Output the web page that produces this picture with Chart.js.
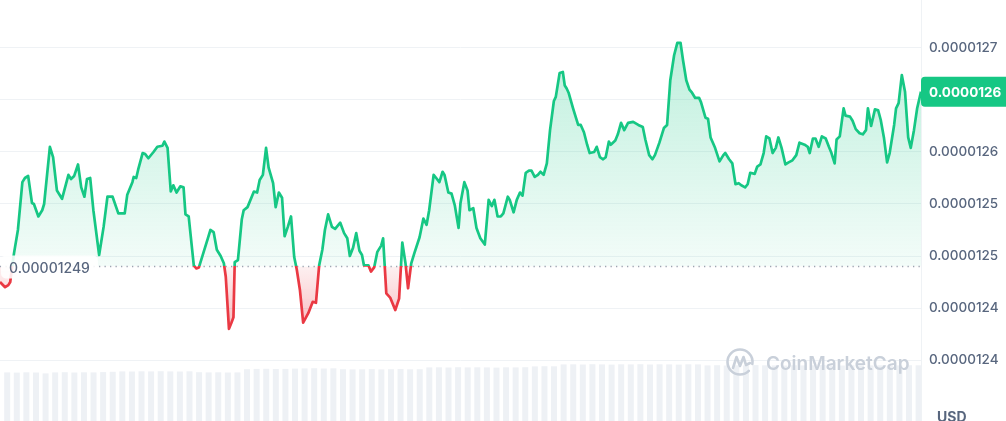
<!DOCTYPE html>
<html><head><meta charset="utf-8">
<script src="https://cdn.jsdelivr.net/npm/chart.js@4.4.1/dist/chart.umd.min.js"></script>
<style>html,body{margin:0;padding:0;background:#fff;overflow:hidden}#wrap{width:1006px;height:421px;position:relative}</style>
</head><body><div id="wrap"><canvas id="c" width="1006" height="421"></canvas></div>
<script>
// time of each price sample, minutes from start of the 24h window
const minutes = [0,8,13,16,19,22,28,35,39,44,50,53,60,66,69,78,83,89,97,107,111,116,122,127,132,136,141,146,155,162,168,176,185,195,199,207,209,213,216,223,227,232,240,246,254,257,262,267,271,276,282,287,290,295,303,307,311,318,325,329,334,339,345,350,353,358,362,365,367,372,378,381,387,397,402,406,411,416,420,427,431,436,441,445,450,455,460,464,469,474,482,489,494,499,504,508,513,519,524,532,538,543,547,552,557,562,566,569,576,580,585,590,596,599,604,610,618,624,629,634,638,643,648,656,662,667,671,678,682,687,692,695,701,706,711,717,720,726,731,734,740,745,751,758,764,769,773,778,783,787,794,797,803,808,813,817,822,827,831,836,841,845,850,855,860,866,869,875,880,883,886,889,896,899,904,908,913,918,922,929,933,938,943,947,952,955,962,966,971,976,982,990,998,1005,1009,1015,1020,1024,1031,1038,1043,1048,1054,1059,1064,1068,1073,1078,1082,1087,1093,1096,1103,1107,1111,1118,1125,1131,1134,1140,1145,1150,1155,1159,1165,1169,1173,1180,1184,1189,1194,1198,1203,1208,1213,1217,1222,1228,1233,1239,1245,1250,1258,1263,1266,1271,1275,1280,1285,1291,1296,1300,1305,1308,1313,1319,1322,1329,1333,1338,1344,1349,1354,1357,1362,1368,1373,1377,1382,1387,1391,1398,1401,1405,1410,1415,1420,1424,1429,1434,1440];
// price in units of 1e-9 USD
const pricesNano = [12475,12470,12472,12475,12490,12503,12525,12571,12575,12577,12551,12550,12538,12544,12550,12605,12595,12563,12555,12578,12574,12577,12588,12566,12557,12574,12575,12544,12501,12528,12557,12557,12541,12541,12559,12571,12576,12575,12583,12599,12598,12594,12600,12605,12606,12610,12604,12562,12568,12561,12567,12566,12540,12538,12491,12488,12489,12503,12517,12525,12523,12506,12500,12493,12480,12430,12436,12441,12494,12496,12535,12544,12547,12562,12561,12573,12578,12604,12585,12570,12547,12561,12556,12519,12528,12538,12499,12487,12467,12436,12445,12456,12455,12491,12506,12525,12540,12528,12526,12532,12522,12517,12500,12508,12522,12505,12501,12491,12491,12485,12489,12504,12510,12517,12464,12460,12448,12459,12513,12493,12469,12493,12503,12518,12536,12530,12544,12578,12575,12571,12581,12578,12561,12560,12549,12527,12551,12571,12563,12544,12546,12527,12517,12511,12554,12548,12554,12538,12538,12541,12557,12554,12542,12554,12561,12558,12580,12582,12582,12576,12578,12581,12578,12589,12621,12649,12653,12676,12677,12664,12661,12657,12642,12636,12626,12626,12619,12607,12599,12600,12605,12595,12593,12595,12610,12607,12611,12617,12628,12621,12628,12629,12626,12624,12612,12597,12593,12597,12609,12623,12626,12669,12693,12705,12705,12688,12669,12660,12657,12652,12652,12648,12633,12632,12614,12604,12591,12597,12599,12593,12589,12569,12570,12568,12566,12569,12580,12579,12586,12588,12599,12615,12613,12599,12604,12614,12604,12588,12590,12592,12597,12609,12607,12605,12599,12613,12613,12605,12615,12613,12605,12599,12589,12612,12615,12642,12635,12634,12630,12622,12618,12617,12621,12642,12625,12641,12640,12631,12614,12590,12599,12626,12642,12647,12674,12658,12614,12604,12621,12642,12658];
const baselineNano = 12490;
const tickValuesNano = [12400,12450,12500,12550,12600,12650,12700];
// volume per 15-minute bucket (thousand USD)
const volumeBars = [480,478,481,479,470,480,482,479,481,480,483,486,490,489,491,490,492,490,489,491,482,480,481,479,480,512,515,516,514,515,518,520,522,519,521,512,510,511,513,510,512,514,511,512,530,531,529,532,530,531,530,528,531,530,532,540,542,541,560,561,559,562,560,558,561,560,562,559,561,560,558,561,560,550,552,549,551,550,553,551,550,549,552,550,551,553,550,549,551,552,550,551,549,550,552,551];
const currencyLabel = 'USD';
const brandLabel = 'CoinMarketCap';

const GREEN = '#16c784', RED = '#ea3943', TXT = '#58667e', FONT = 'Inter, "Noto Sans", sans-serif';
const fmtTick = v => '0.0000' + Math.floor(v / 100);
const fmtBase = v => (v / 1e9).toFixed(8);
const points = minutes.map((t, i) => ({x: t, y: pricesNano[i]}));
const volLabels = volumeBars.map((_, i) => String(i));

const styler = {
  id: 'styler',
  afterLayout(chart) {
    const {ctx, chartArea: a, scales: {y}} = chart;
    const yb = y.getPixelForValue(baselineNano);
    const f = Math.min(1, Math.max(0, (yb - a.top) / (a.bottom - a.top)));
    const bc = ctx.createLinearGradient(0, a.top, 0, a.bottom);
    bc.addColorStop(0, GREEN); bc.addColorStop(f, GREEN); bc.addColorStop(f, RED); bc.addColorStop(1, RED);
    const ga = ctx.createLinearGradient(0, y.getPixelForValue(Math.max(...pricesNano)), 0, yb);
    ga.addColorStop(0, 'rgba(22,199,132,0.28)'); ga.addColorStop(1, 'rgba(22,199,132,0.05)');
    const gb = ctx.createLinearGradient(0, yb, 0, y.getPixelForValue(Math.min(...pricesNano)));
    gb.addColorStop(0, 'rgba(234,57,67,0.07)'); gb.addColorStop(1, 'rgba(234,57,67,0.34)');
    const ds = chart.data.datasets[0];
    ds.borderColor = bc;
    ds.fill = {target: {value: baselineNano}, above: ga, below: gb};
  },
  beforeDatasetsDraw(chart) {
    const {ctx, chartArea: a, scales: {y}} = chart;
    const yb = Math.round(y.getPixelForValue(baselineNano)) + 0.5;
    ctx.save();
    ctx.strokeStyle = '#9ea6b4'; ctx.lineWidth = 1.3; ctx.setLineDash([1.3, 4.2]);
    ctx.beginPath(); ctx.moveTo(a.left, yb); ctx.lineTo(a.right, yb); ctx.stroke();
    ctx.restore();
  },
  afterDatasetsDraw(chart) {
    const {ctx, chartArea: a, scales: {y}} = chart;
    const yb = y.getPixelForValue(baselineNano);
    ctx.save();
    // baseline label
    ctx.font = '500 14px ' + FONT;
    const txt = fmtBase(baselineNano);
    const w = ctx.measureText(txt).width;
    ctx.fillStyle = 'rgba(255,255,255,0.88)';
    ctx.beginPath(); ctx.roundRect(a.left + 1, yb - 11, w + 16, 23, 5); ctx.fill();
    ctx.fillStyle = TXT; ctx.textBaseline = 'middle'; ctx.textAlign = 'left';
    ctx.fillText(txt, a.left + 9, yb + 2);
    // watermark
    const cx = 740, cy = 362, r = 12.5;
    ctx.strokeStyle = '#c9d0da'; ctx.lineWidth = 2.6; ctx.lineCap = 'round'; ctx.lineJoin = 'round';
    ctx.beginPath(); ctx.arc(cx, cy, r, 0.25 * Math.PI, 2.05 * Math.PI); ctx.stroke();
    ctx.beginPath();
    ctx.moveTo(cx - 7, cy + 6); ctx.lineTo(cx - 3.5, cy - 5); ctx.lineTo(cx, cy + 4);
    ctx.lineTo(cx + 3.5, cy - 5); ctx.lineTo(cx + 6, cy + 3); ctx.lineTo(cx + 10, cy + 1);
    ctx.stroke();
    ctx.fillStyle = '#c9d0da'; ctx.font = '600 19px ' + FONT; ctx.textBaseline = 'middle';
    ctx.fillText(brandLabel, 766, 364);
    ctx.restore();
  },
  afterDraw(chart) {
    const {ctx, chartArea: a, scales: {y}} = chart;
    const last = pricesNano[pricesNano.length - 1];
    const yl = y.getPixelForValue(last);
    ctx.save();
    ctx.fillStyle = GREEN;
    ctx.beginPath(); ctx.roundRect(a.right, yl - 15, chart.width - a.right + 4, 30, 4); ctx.fill();
    ctx.fillStyle = '#ffffff'; ctx.font = '700 13.5px ' + FONT; ctx.textBaseline = 'middle'; ctx.textAlign = 'left';
    ctx.fillText(fmtTick(last), a.right + 8, yl + 1);
    ctx.fillStyle = TXT; ctx.font = '700 14px ' + FONT; ctx.textBaseline = 'top';
    ctx.fillText(currencyLabel, 937, 411);
    ctx.restore();
  }
};

const yMaxNano = 12746.15, yMinNano = 12341.35;

new Chart(document.getElementById('c'), {
  type: 'line',
  data: {
    datasets: [
      {type: 'line', data: points, xAxisID: 'x', yAxisID: 'y', order: 0, borderColor: GREEN, borderWidth: 2.7,
       pointRadius: 0, pointHoverRadius: 0, tension: 0, borderJoinStyle: 'round', fill: {target: {value: baselineNano}, above: 'rgba(22,199,132,0.12)', below: 'rgba(234,57,67,0.15)'}},
      {type: 'bar', data: volumeBars, xAxisID: 'xv', yAxisID: 'yv', order: 1, backgroundColor: '#eef1f5',
       barPercentage: 1, categoryPercentage: 1, borderWidth: 0, inflateAmount: 0.6}
    ]
  },
  options: {
    responsive: false, animation: false, devicePixelRatio: 1,
    layout: {padding: 0},
    plugins: {legend: {display: false}, tooltip: {enabled: false}},
    scales: {
      x: {type: 'linear', min: 0, max: 1440, display: false},
      xv: {type: 'category', labels: volLabels, display: false, offset: true},
      yv: {type: 'linear', display: false, min: 0, max: 4210},
      y: {
        type: 'linear', position: 'right', min: yMinNano, max: yMaxNano,
        afterBuildTicks: s => { s.ticks = tickValuesNano.map(v => ({value: v})); },
        afterFit: s => { s.width = 85; s.paddingTop = 0; s.paddingBottom = 0; },
        grid: {color: '#eff2f5', lineWidth: 1, drawTicks: false},
        border: {display: true, color: '#eff2f5'},
        ticks: {padding: 8, color: TXT, font: {family: FONT, size: 13.5, weight: 500}, callback: v => fmtTick(v)}
      }
    }
  },
  plugins: [styler]
});
</script></body></html>
